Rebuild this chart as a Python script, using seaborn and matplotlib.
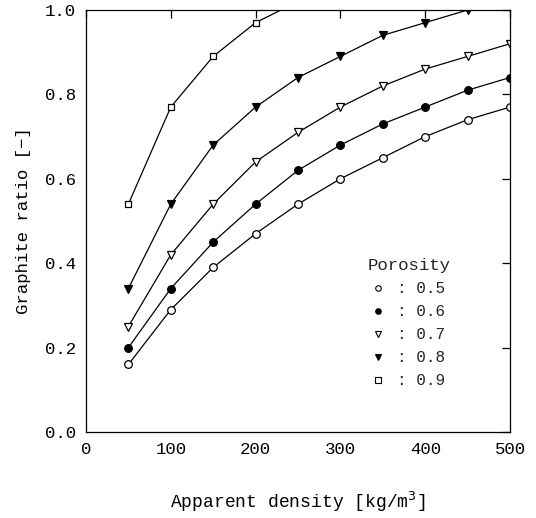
import matplotlib
matplotlib.use("Agg")
import matplotlib.pyplot as plt
from matplotlib.lines import Line2D
import seaborn as sns
import pandas as pd

density = [50, 100, 150, 200, 250, 300, 350, 400, 450, 500]
ratio_05 = [0.16, 0.29, 0.39, 0.47, 0.54, 0.60, 0.65, 0.70, 0.74, 0.77]
ratio_06 = [0.20, 0.34, 0.45, 0.54, 0.62, 0.68, 0.73, 0.77, 0.81, 0.84]
ratio_07 = [0.25, 0.42, 0.54, 0.64, 0.71, 0.77, 0.82, 0.86, 0.89, 0.92]
ratio_08 = [0.34, 0.54, 0.68, 0.77, 0.84, 0.89, 0.94, 0.97, 1.00, 1.02]
ratio_09 = [0.54, 0.77, 0.89, 0.97, 1.02]
porosity_labels = ["0.5", "0.6", "0.7", "0.8", "0.9"]

series = [ratio_05, ratio_06, ratio_07, ratio_08, ratio_09]
styles = [("o", "white"), ("o", "black"), ("v", "white"), ("v", "black"), ("s", "white")]
sizes = [5.5, 5.5, 5.5, 5.5, 5.0]

sns.set_theme(style="white")
plt.rcParams["font.family"] = ["Liberation Mono", "DejaVu Sans Mono"]

fig = plt.figure(figsize=(5.36, 5.18), dpi=100)
ax = fig.add_axes([0.1604, 0.166, 0.7911, 0.8147])

for vals, (m, fc), ms in zip(series, styles, sizes):
    df = pd.DataFrame({"density": density[:len(vals)], "ratio": vals})
    sns.lineplot(data=df, x="density", y="ratio", ax=ax, color="black",
                 linewidth=0.9, marker=m, markersize=ms,
                 markerfacecolor=fc, markeredgecolor="black",
                 markeredgewidth=0.9)

ax.set_xlim(0, 500)
ax.set_ylim(0, 1.0)
ax.set_xticks([0, 100, 200, 300, 400, 500])
ax.set_yticks([0.0, 0.2, 0.4, 0.6, 0.8, 1.0])
ax.set_yticklabels(["0.0", "0.2", "0.4", "0.6", "0.8", "1.0"])
ax.tick_params(direction="in", length=6, width=0.9, top=True, right=True,
               labelsize=12.5, colors="black", pad=7)
for sp in ax.spines.values():
    sp.set_color("black")
    sp.set_linewidth(0.9)

ax.set_xlabel("Apparent density [kg/m$^3$]", fontsize=13, labelpad=24, color="black")
ax.set_ylabel("Graphite ratio [\u2212]", fontsize=12.5, labelpad=10, color="black")

handles = [Line2D([], [], linestyle="none", marker=m, markersize=4,
                  markerfacecolor=fc, markeredgecolor="black", markeredgewidth=0.8)
           for (m, fc) in styles]
leg = ax.legend(handles, [": " + p for p in porosity_labels], title="Porosity",
                loc="lower right", bbox_to_anchor=(0.893, 0.07), frameon=False,
                fontsize=11.5, title_fontsize=12.5, handletextpad=0.9,
                handlelength=0.6, labelspacing=0.5)
leg._legend_box.align = "center"

fig.savefig("out.png", dpi=100)
